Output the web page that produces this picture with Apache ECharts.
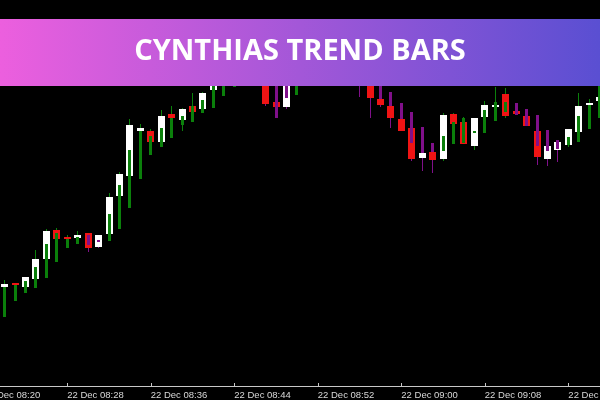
<!DOCTYPE html>
<html>
<head>
<meta charset="utf-8">
<script src="https://cdn.jsdelivr.net/npm/echarts@6/dist/echarts.min.js"></script>
<style>
html,body{margin:0;padding:0;background:#000;}
#chart{width:600px;height:400px;}
</style>
</head>
<body>
<div id="chart"></div>
<script>
// time categories (08:20 .. 09:19); bars start at 08:22
const categories = ['08:20','08:21','08:22','08:23','08:24','08:25','08:26','08:27','08:28','08:29',
  '08:30','08:31','08:32','08:33','08:34','08:35','08:36','08:37','08:38','08:39',
  '08:40','08:41','08:42','08:43','08:44','08:45','08:46','08:47','08:48','08:49',
  '08:50','08:51','08:52','08:53','08:54','08:55','08:56','08:57','08:58','08:59',
  '09:00','09:01','09:02','09:03','09:04','09:05','09:06','09:07','09:08','09:09',
  '09:10','09:11','09:12','09:13','09:14','09:15','09:16','09:17','09:18','09:19'];
const firstBar = 2;
const datePrefix = '22 Dec ';

const opens = [1.08099,1.08103,1.08099,1.08107,1.08127,1.08156,1.08149,1.08148,1.08153,1.08139,
  1.08152,1.08190,1.08210,1.08255,1.08255,1.08244,1.08272,1.08266,1.08280,1.08277,
  1.08296,1.08306,1.08316,1.08326,1.08341,1.08326,1.08284,1.08279,1.08308,1.08321,
  1.08346,1.08336,1.08351,1.08336,1.08326,1.08316,1.08287,1.08280,1.08267,1.08258,
  1.08228,1.08234,1.08227,1.08272,1.08264,1.08240,1.08269,1.08279,1.08292,1.08275,
  1.08270,1.08255,1.08227,1.08236,1.08241,1.08254,1.08281,1.08285];
const closes = [1.08102,1.08101,1.08109,1.08127,1.08155,1.08147,1.08147,1.08151,1.08138,1.08151,
  1.08189,1.08212,1.08261,1.08258,1.08244,1.08270,1.08268,1.08277,1.08274,1.08293,
  1.08311,1.08326,1.08336,1.08346,1.08331,1.08282,1.08279,1.08306,1.08326,1.08341,
  1.08331,1.08351,1.08331,1.08316,1.08311,1.08288,1.08281,1.08268,1.08255,1.08227,
  1.08233,1.08226,1.08271,1.08262,1.08242,1.08268,1.08281,1.08281,1.08270,1.08272,
  1.08260,1.08229,1.08240,1.08244,1.08257,1.08280,1.08283,1.08289];
const highs = [1.08106,1.08103,1.08109,1.08136,1.08157,1.08158,1.08151,1.08155,1.08153,1.08151,
  1.08193,1.08214,1.08267,1.08262,1.08257,1.08276,1.08280,1.08278,1.08293,1.08294,
  1.08316,1.08331,1.08341,1.08351,1.08348,1.08331,1.08318,1.08314,1.08331,1.08346,
  1.08351,1.08356,1.08356,1.08346,1.08336,1.08321,1.08306,1.08294,1.08283,1.08274,
  1.08259,1.08243,1.08273,1.08273,1.08269,1.08268,1.08285,1.08299,1.08298,1.08283,
  1.08277,1.08271,1.08256,1.08246,1.08257,1.08293,1.08287,1.08306];
const lows = [1.08069,1.08085,1.08093,1.08098,1.08108,1.08124,1.08138,1.08142,1.08134,1.08138,
  1.08145,1.08157,1.08178,1.08207,1.08231,1.08239,1.08248,1.08255,1.08264,1.08273,
  1.08278,1.08290,1.08299,1.08306,1.08311,1.08280,1.08268,1.08277,1.08291,1.08306,
  1.08311,1.08316,1.08326,1.08306,1.08289,1.08268,1.08279,1.08258,1.08255,1.08225,
  1.08215,1.08213,1.08225,1.08242,1.08242,1.08236,1.08253,1.08265,1.08268,1.08271,
  1.08260,1.08221,1.08220,1.08224,1.08239,1.08244,1.08257,1.08268];
// trend histogram segment (thick bar)
const trendHigh = [1.08099,1.08101,1.08105,1.08119,1.08142,1.08153,1.08147,1.08149,1.08151,1.08146,
  1.08172,1.08201,1.08236,1.08255,1.08250,1.08258,1.08268,1.08270,1.08280,1.08286,
  1.08304,1.08308,1.08318,1.08331,1.08336,1.08328,1.08316,1.08311,1.08316,1.08331,
  1.08341,1.08341,1.08356,1.08346,1.08336,1.08321,1.08306,1.08294,1.08283,1.08274,
  1.08259,1.08243,1.08250,1.08264,1.08268,1.08255,1.08276,1.08284,1.08284,1.08283,
  1.08277,1.08271,1.08256,1.08246,1.08249,1.08270,1.08281,1.08304];
const trendLow = [1.08069,1.08085,1.08093,1.08098,1.08108,1.08124,1.08138,1.08142,1.08141,1.08144,
  1.08145,1.08157,1.08178,1.08207,1.08231,1.08239,1.08248,1.08261,1.08264,1.08273,
  1.08278,1.08290,1.08299,1.08306,1.08311,1.08311,1.08268,1.08288,1.08291,1.08306,
  1.08311,1.08316,1.08341,1.08328,1.08321,1.08311,1.08287,1.08280,1.08267,1.08243,
  1.08233,1.08234,1.08235,1.08242,1.08243,1.08253,1.08253,1.08265,1.08274,1.08271,
  1.08260,1.08240,1.08235,1.08237,1.08241,1.08244,1.08257,1.08268];
// 1 = up trend (green), -1 = down trend (purple)
const trendDir = [1,1,1,1,1,1,1,1,-1,-1,
  1,1,1,1,1,1,1,1,1,1,
  1,1,1,1,1,-1,-1,-1,1,1,
  1,1,-1,-1,-1,-1,-1,-1,-1,-1,
  -1,-1,1,1,1,1,1,1,1,-1,
  -1,-1,-1,-1,1,1,1,1];

const titleText = 'CYNTHIAS TREND BARS';

const WHITE = '#ffffff', RED = '#f01414', GREEN = '#0b800b', PURPLE = '#80108a';

const seriesData = opens.map((o, i) => [i + firstBar, o, closes[i], highs[i], lows[i], trendHigh[i], trendLow[i], trendDir[i]]);

function renderItem(params, api) {
  const x = api.value(0);
  const o = api.coord([x, api.value(1)]);
  const c = api.coord([x, api.value(2)]);
  const h = api.coord([x, api.value(3)]);
  const l = api.coord([x, api.value(4)]);
  const ta = api.coord([x, api.value(5)]);
  const tb = api.coord([x, api.value(6)]);
  const tc = api.value(7) > 0 ? GREEN : PURPLE;
  const bc = api.value(2) >= api.value(1) ? WHITE : RED;
  const left = Math.round(o[0] - 3.5);
  const top = Math.round(Math.min(o[1], c[1]));
  const bot = Math.round(Math.max(o[1], c[1]));
  const hy = Math.round(h[1]), ly = Math.round(l[1]);
  const ty = Math.round(ta[1]), tby = Math.round(tb[1]);
  return {
    type: 'group',
    children: [
      {type: 'rect', shape: {x: left + 3, y: hy, width: 1, height: Math.max(ly - hy, 1)}, style: {fill: tc}},
      {type: 'rect', shape: {x: left, y: top, width: 7, height: Math.max(bot - top, 1)}, style: {fill: bc}},
      {type: 'rect', shape: {x: left + 2, y: ty, width: 3, height: Math.max(tby - ty, 1)}, style: {fill: tc}}
    ]
  };
}

const chart = echarts.init(document.getElementById('chart'), null, {renderer: 'canvas'});
chart.setOption({
  backgroundColor: '#000000',
  animation: false,
  grid: {left: -21.5, right: -4.9, top: 0, bottom: 14, containLabel: false, outerBoundsMode: 'none'},
  xAxis: {
    type: 'category',
    data: categories,
    boundaryGap: true,
    axisLine: {show: true, lineStyle: {color: '#c8c8c8', width: 1}},
    axisTick: {show: true, alignWithLabel: true, length: 3, inside: true, lineStyle: {color: '#c8c8c8'},
      interval: (idx) => idx % 8 === 0},
    axisLabel: {
      show: true, interval: (idx) => idx % 8 === 0, align: 'left', margin: 4,
      color: '#d8d8d8', fontFamily: 'Liberation Sans', fontSize: 9.5,
      formatter: (v) => datePrefix + v
    },
    splitLine: {show: false}
  },
  yAxis: {
    type: 'value', min: 1.08, max: 1.08386, show: false, splitLine: {show: false}
  },
  series: [{
    type: 'custom',
    renderItem: renderItem,
    data: seriesData,
    encode: {x: 0, y: [1, 2, 3, 4, 5, 6]},
    clip: true
  }],
  graphic: [
    {type: 'rect', left: 0, top: 19, shape: {width: 600, height: 67}, z: 100,
      style: {fill: new echarts.graphic.LinearGradient(0, 0, 1, 0, [
        {offset: 0, color: '#ec5fde'}, {offset: 1, color: '#5a4fd2'}])}},
    {type: 'text', left: 'center', top: 37, z: 101,
      style: {text: titleText, fill: '#ffffff', font: 'bold 29px "Open Sans"'}}
  ]
});
</script>
</body>
</html>
